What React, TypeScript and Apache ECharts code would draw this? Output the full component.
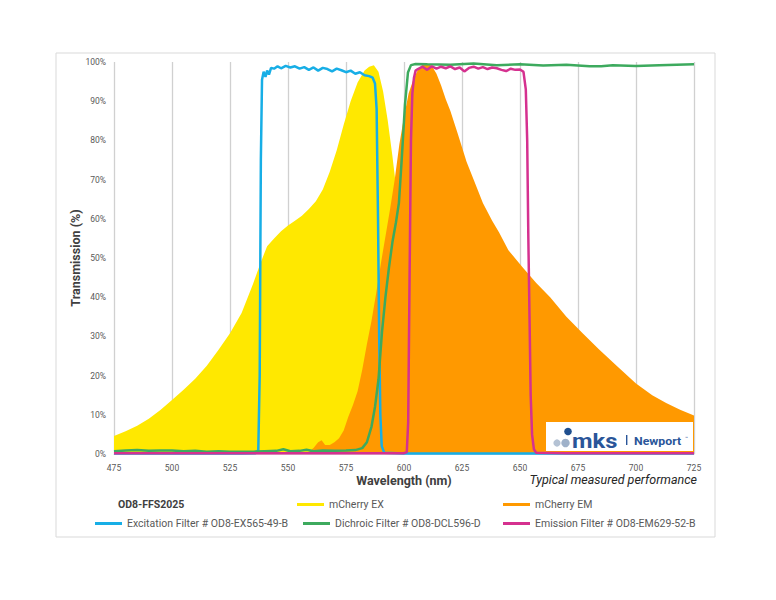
import React, { useEffect, useRef } from "react";
import * as echarts from "echarts";

// mCherry excitation spectrum (yellow area)
const exWl = [475, 480, 485, 490, 495, 500, 505, 510, 515, 520, 525, 530, 535, 538, 541, 544, 547, 550, 553, 556, 559, 562, 565, 568, 571, 574, 577, 580, 583, 585, 587, 589, 591, 593, 595, 597, 599, 601, 603, 606, 610, 615, 620, 625];
const exVal = [4.6, 5.8, 7.2, 9.0, 11.2, 13.8, 16.4, 19.2, 22.5, 26.5, 30.8, 36.0, 43.5, 48.5, 53.0, 55.0, 56.8, 58.3, 59.5, 60.8, 62.5, 64.5, 67.5, 72.0, 77.5, 84.0, 90.0, 94.8, 97.8, 98.8, 99.2, 97.5, 92.5, 85.0, 76.0, 66.0, 55.0, 43.0, 31.0, 17.0, 7.0, 2.5, 0.8, 0];

// mCherry emission spectrum (orange area)
const emWl = [556, 559, 561, 563, 564.5, 566, 568, 570, 572, 574, 576, 578, 580, 582, 584, 586, 588, 590, 592, 594, 596, 598, 600, 602, 604, 606, 608, 610, 612, 614, 616, 618, 620, 623, 627, 630, 634, 638, 641, 645, 651, 657, 663, 670, 677, 684, 692, 700, 707, 713, 719, 725];
const emVal = [0, 0.5, 1.5, 3.0, 3.5, 2.3, 2.3, 3.0, 4.0, 6.0, 9.5, 12.5, 16.0, 21.5, 28.0, 34.0, 41.0, 48.5, 55.5, 62.5, 70.0, 79.0, 86.0, 92.0, 95.5, 98.0, 99.3, 99.6, 99.0, 97.0, 94.0, 90.5, 87.5, 82.0, 74.5, 70.0, 64.0, 59.5, 56.5, 52.0, 47.7, 43.6, 40.0, 35.0, 30.8, 26.7, 22.3, 18.0, 15.0, 13.0, 11.3, 9.8];

// Excitation filter (blue)
const exfWl = [475, 500, 520, 530, 536, 537.2, 537.8, 538.3, 538.8, 539.5, 540.3, 541, 541.8, 542.7, 544, 545.5, 547, 549, 551, 553, 555, 557, 559, 561, 563, 565, 567, 569, 571, 573, 575, 577, 579, 581, 583, 585, 586.5, 587.5, 588.2, 588.8, 589.3, 589.8, 590.4, 591.5, 600, 620, 650, 700, 725];
const exfVal = [0.1, 0.1, 0.1, 0.15, 0.2, 1, 20, 75, 95.5, 97.5, 96.2, 97.8, 96.8, 98.5, 98.3, 98.9, 98.4, 99.0, 98.6, 98.9, 98.3, 98.7, 98.0, 98.6, 97.8, 98.5, 98.2, 97.6, 98.3, 97.9, 97.4, 97.8, 97.0, 97.4, 96.6, 96.4, 96.0, 94.5, 88, 60, 30, 10, 2, 0.3, 0.1, 0.1, 0.1, 0.1, 0.1];

// Dichroic filter (green)
const dcWl = [475, 480, 485, 490, 495, 500, 505, 510, 515, 520, 525, 530, 535, 540, 545, 548, 551, 555, 558, 561, 565, 570, 575, 579, 582, 584, 586, 587.5, 589, 590.5, 592, 593.5, 595, 596.5, 597.8, 599, 600.4, 601.7, 603, 605, 610, 620, 630, 640, 650, 660, 670, 680, 685, 690, 700, 710, 725];
const dcVal = [0.7, 0.9, 1.0, 0.8, 0.9, 0.9, 0.7, 0.8, 0.6, 0.7, 0.6, 0.6, 0.6, 0.7, 0.8, 1.2, 0.7, 0.8, 1.1, 0.7, 0.9, 0.8, 0.9, 1.0, 1.5, 3.0, 7.0, 12.0, 19.0, 31, 40, 47.5, 54, 59, 64, 75, 89, 97.3, 99.2, 99.5, 99.4, 99.3, 99.6, 99.2, 99.4, 99.1, 99.3, 98.9, 98.9, 99.2, 99.0, 99.2, 99.4];

// Emission filter (magenta)
const emfWl = [475, 500, 550, 600, 601.2, 601.8, 602.4, 603, 603.6, 604.3, 605, 606, 608, 610, 612, 614, 616, 618, 620, 622, 624, 626, 628, 630, 632, 634, 636, 638, 640, 642, 644, 646, 648, 650, 651.5, 652.5, 653.1, 653.6, 654.1, 654.6, 655.2, 656, 657, 670, 700, 725];
const emfVal = [0.2, 0.2, 0.2, 0.2, 0.5, 8, 45, 80, 92, 96, 97.8, 98.2, 98.8, 98.0, 98.9, 98.3, 98.8, 98.4, 98.9, 98.2, 98.6, 97.6, 98.5, 98.8, 98.3, 98.7, 98.2, 98.6, 98.4, 98.0, 97.7, 98.3, 98.0, 98.1, 97.5, 93, 80, 55, 35, 15, 5, 1.2, 0.3, 0.2, 0.2, 0.2];

const seriesNames = [
  "mCherry EX",
  "mCherry EM",
  "Excitation Filter # OD8-EX565-49-B",
  "Dichroic Filter # OD8-DCL596-D",
  "Emission Filter # OD8-EM629-52-B",
];
const legendTitle = "OD8-FFS2025";

const zip = (a: number[], b: number[]) => a.map((x, i) => [x, b[i]]);

const FONT = "Roboto, 'Noto Sans', sans-serif";
const LEGEND_FONT = "'Liberation Sans Narrow', Roboto, sans-serif";

export default function App() {
  const ref = useRef<HTMLDivElement>(null);
  useEffect(() => {
    if (!ref.current) return;
    const chart = echarts.init(ref.current, undefined, { renderer: "svg" });
    const colors = ["#FFE800", "#FF9900", "#17AEE6", "#3DAA5E", "#D5318F"];
    const legendText = { color: "#595959", fontSize: 10.5, fontFamily: LEGEND_FONT };
    const mkLegend = (name: string, left: number, top: number) => ({
      data: [name],
      left,
      top,
      padding: 0,
      icon: "rect",
      itemWidth: 27,
      itemHeight: 3,
      itemGap: 0,
      textStyle: legendText,
      selectedMode: false,
    });
    const LZ = 100;
    chart.setOption({
      animation: false,
      backgroundColor: "#ffffff",
      grid: { left: 114, right: 82, top: 62, bottom: 146 },
      xAxis: {
        type: "value",
        min: 475,
        max: 725,
        interval: 25,
        name: "Wavelength (nm)",
        nameLocation: "middle",
        nameGap: 20,
        nameMoveOverlap: false,
        nameTextStyle: { color: "#404040", fontSize: 12.5, fontWeight: "bold", fontFamily: FONT },
        axisLine: { show: true, lineStyle: { color: "#d9d9d9", width: 1 } },
        axisTick: { show: false },
        axisLabel: { color: "#595959", fontSize: 8.5, fontFamily: FONT, margin: 9 },
        splitLine: { show: true, lineStyle: { color: "#d0d0d0", width: 1.3 } },
      },
      yAxis: {
        type: "value",
        min: 0,
        max: 100,
        interval: 10,
        name: "Transmission (%)",
        nameLocation: "middle",
        nameGap: 32,
        nameMoveOverlap: false,
        nameTextStyle: { color: "#404040", fontSize: 12.5, fontWeight: "bold", fontFamily: FONT },
        axisLine: { show: false },
        axisTick: { show: false },
        axisLabel: { color: "#595959", fontSize: 8.5, fontFamily: FONT, margin: 8, formatter: "{value}%" },
        splitLine: { show: false },
      },
      legend: [
        mkLegend(seriesNames[0], 297, 499),
        mkLegend(seriesNames[1], 503, 499),
        mkLegend(seriesNames[2], 95, 518),
        mkLegend(seriesNames[3], 303, 518),
        mkLegend(seriesNames[4], 503, 518),
      ],
      series: [
        {
          name: seriesNames[0],
          type: "line",
          data: zip(exWl, exVal),
          showSymbol: false,
          symbol: "none",
          itemStyle: { color: colors[0] },
          lineStyle: { width: 0, color: colors[0] },
          areaStyle: { color: colors[0], opacity: 1 },
        },
        {
          name: seriesNames[1],
          type: "line",
          data: zip(emWl, emVal),
          showSymbol: false,
          symbol: "none",
          itemStyle: { color: colors[1] },
          lineStyle: { width: 0, color: colors[1] },
          areaStyle: { color: colors[1], opacity: 1 },
        },
        {
          name: seriesNames[2],
          type: "line",
          data: zip(exfWl, exfVal),
          showSymbol: false,
          symbol: "none",
          itemStyle: { color: colors[2] },
          lineStyle: { width: 2.5, color: colors[2] },
        },
        {
          name: seriesNames[3],
          type: "line",
          data: zip(dcWl, dcVal),
          showSymbol: false,
          symbol: "none",
          itemStyle: { color: colors[3] },
          lineStyle: { width: 2.5, color: colors[3] },
        },
        {
          name: seriesNames[4],
          type: "line",
          data: zip(emfWl, emfVal),
          showSymbol: false,
          symbol: "none",
          itemStyle: { color: colors[4] },
          lineStyle: { width: 2.5, color: colors[4] },
        },
      ],
      graphic: [
        {
          type: "rect",
          shape: { x: 56, y: 53, width: 659, height: 484 },
          style: { fill: "none", stroke: "#d9d9d9", lineWidth: 1 },
          silent: true,
          z: -10,
        },
        {
          type: "text",
          left: 118,
          top: 499,
          style: { text: legendTitle, fill: "#404040", font: `bold 10.5px ${LEGEND_FONT}` },
        },
        {
          type: "text",
          x: 697,
          y: 486,
          style: {
            text: "Typical measured performance",
            fill: "#262626",
            font: `italic 12.5px ${FONT}`,
            align: "right",
            verticalAlign: "bottom",
          },
        },
        { type: "rect", z: LZ, shape: { x: 546, y: 422, width: 147, height: 29 }, style: { fill: "#ffffff" } },
        { type: "circle", z: LZ, shape: { cx: 557, cy: 443, r: 3.6 }, style: { fill: "#b4c2d4" } },
        { type: "circle", z: LZ, shape: { cx: 565.5, cy: 443, r: 4.2 }, style: { fill: "#9fb1c9" } },
        { type: "circle", z: LZ, shape: { cx: 568, cy: 431.5, r: 3.8 }, style: { fill: "#1f4f8f" } },
        {
          type: "text",
          z: LZ,
          x: 572,
          y: 451,
          scaleX: 1.13,
          style: { text: "mks", fill: "#2a5599", font: `bold 21px ${FONT}`, verticalAlign: "bottom" },
        },
        { type: "rect", z: LZ, shape: { x: 626, y: 435, width: 1.4, height: 10 }, style: { fill: "#2a5599" } },
        {
          type: "text",
          z: LZ,
          x: 634,
          y: 446.5,
          scaleX: 1.12,
          style: { text: "Newport", fill: "#2a5599", font: `bold 11px ${FONT}`, verticalAlign: "bottom" },
        },
        {
          type: "text",
          z: LZ,
          x: 685,
          y: 435,
          style: { text: "™", fill: "#2a5599", font: `5px ${FONT}` },
        },
      ],
    });
    return () => chart.dispose();
  }, []);
  return <div ref={ref} style={{ position: "fixed", left: 0, top: 0, width: 776, height: 600 }} />;
}
